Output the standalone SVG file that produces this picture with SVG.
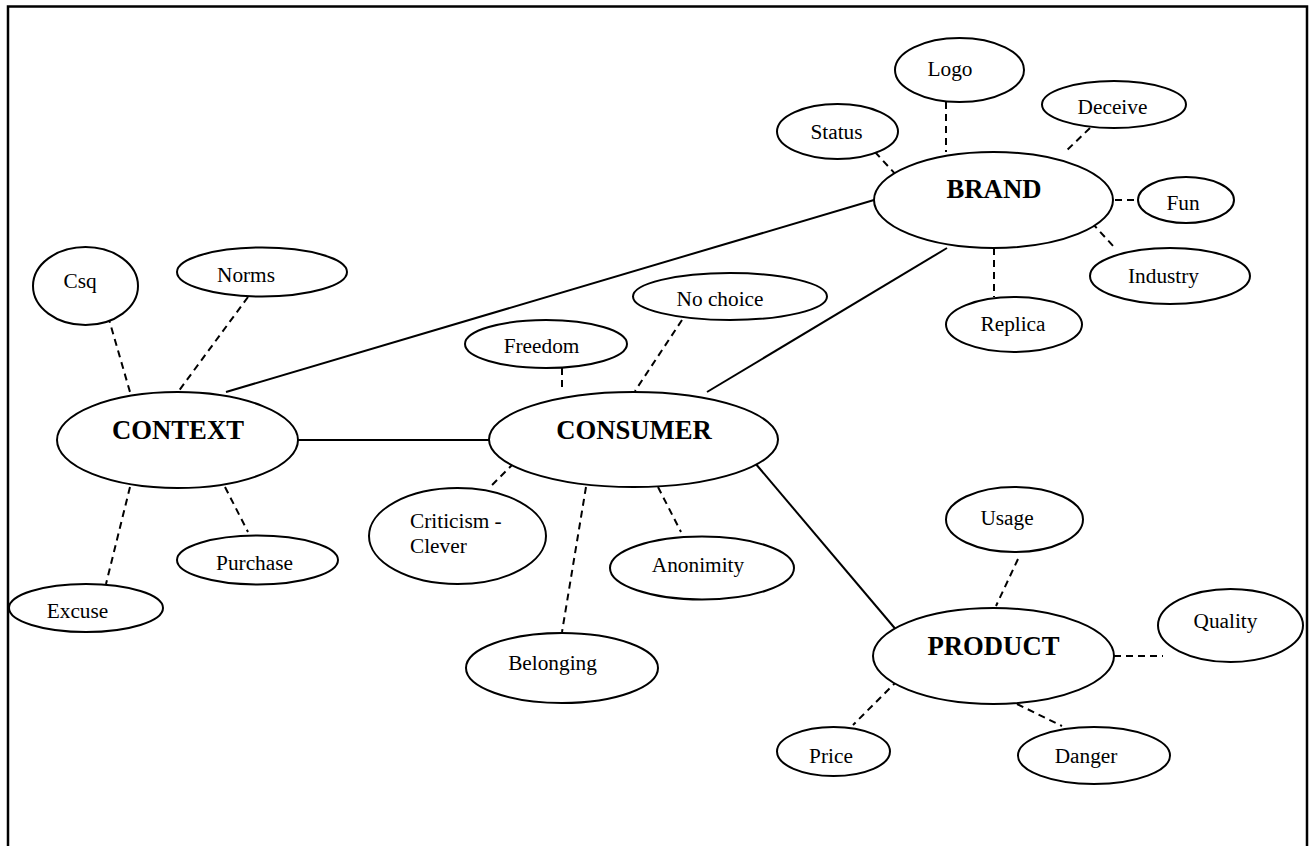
<svg xmlns="http://www.w3.org/2000/svg" width="1312" height="846" viewBox="0 0 1312 846">
  <style>
    .node ellipse { fill: #fff; stroke: #000; stroke-width: 2; }
    .lbl { font-family: "Liberation Serif", "Times New Roman", serif; font-size: 21.3px; fill: #000; text-anchor: middle; }
    .hub { font-family: "Liberation Serif", "Times New Roman", serif; font-size: 26.7px; font-weight: bold; fill: #000; text-anchor: middle; }
    .solid { stroke: #000; stroke-width: 2; fill: none; }
    .dash { stroke: #000; stroke-width: 2; fill: none; stroke-dasharray: 7 5; }
  </style>
  <rect width="1312" height="846" fill="#fff"/>
  <!-- frame, open at the bottom -->
  <path d="M8,846 V6.5 H1307 V846" fill="none" stroke="#000" stroke-width="2.5"/>

  <g id="connectors">
    <!-- links between the four hubs -->
    <line class="solid" x1="874" y1="200" x2="226" y2="392"/>
    <line class="solid" x1="947" y1="248" x2="707" y2="392"/>
    <line class="solid" x1="298" y1="440" x2="489" y2="440"/>
    <line class="solid" x1="755" y1="463" x2="898" y2="632"/>
    <!-- BRAND spokes -->
    <line class="dash" x1="946" y1="102" x2="946" y2="152"/>
    <line class="dash" x1="875" y1="152" x2="898" y2="177"/>
    <line class="dash" x1="1090" y1="128" x2="1065" y2="152"/>
    <line class="dash" x1="1115" y1="200" x2="1138" y2="200"/>
    <line class="dash" x1="1092" y1="223" x2="1115" y2="248"/>
    <line class="dash" x1="994" y1="248" x2="994" y2="297"/>
    <!-- CONTEXT spokes -->
    <line class="dash" x1="108" y1="316" x2="130" y2="392"/>
    <line class="dash" x1="248" y1="297" x2="178" y2="392"/>
    <line class="dash" x1="130" y1="487" x2="106" y2="584"/>
    <line class="dash" x1="225" y1="487" x2="248" y2="532"/>
    <!-- CONSUMER spokes -->
    <line class="dash" x1="562" y1="368" x2="562" y2="390"/>
    <line class="dash" x1="682" y1="320" x2="635" y2="391"/>
    <line class="dash" x1="514" y1="463" x2="489" y2="488"/>
    <line class="dash" x1="586" y1="487" x2="562" y2="632"/>
    <line class="dash" x1="658" y1="487" x2="681" y2="532"/>
    <!-- PRODUCT spokes -->
    <line class="dash" x1="1018" y1="559" x2="996" y2="606"/>
    <line class="dash" x1="1114" y1="656" x2="1163" y2="656"/>
    <line class="dash" x1="898" y1="680" x2="853" y2="725"/>
    <line class="dash" x1="1017" y1="704" x2="1062" y2="726"/>
  </g>

  <g id="brand" class="node">
    <ellipse cx="993.5" cy="200" rx="119.5" ry="48"/>
    <text class="hub" x="994" y="198">BRAND</text>
  </g>
  <g id="logo" class="node">
    <ellipse cx="959.5" cy="70" rx="64.5" ry="32"/>
    <text class="lbl" x="950" y="76">Logo</text>
  </g>
  <g id="status" class="node">
    <ellipse cx="837.5" cy="131.5" rx="60.5" ry="27.5"/>
    <text class="lbl" x="836.5" y="139">Status</text>
  </g>
  <g id="deceive" class="node">
    <ellipse cx="1114" cy="104.5" rx="72" ry="23.5"/>
    <text class="lbl" x="1112.5" y="114">Deceive</text>
  </g>
  <g id="fun" class="node">
    <ellipse cx="1186" cy="200" rx="48" ry="23"/>
    <text class="lbl" x="1183" y="210">Fun</text>
  </g>
  <g id="industry" class="node">
    <ellipse cx="1170" cy="276" rx="80" ry="28"/>
    <text class="lbl" x="1163.5" y="283">Industry</text>
  </g>
  <g id="replica" class="node">
    <ellipse cx="1014" cy="324.5" rx="68" ry="27.5"/>
    <text class="lbl" x="1013" y="331">Replica</text>
  </g>

  <g id="context" class="node">
    <ellipse cx="177.5" cy="440" rx="120.5" ry="48"/>
    <text class="hub" x="178" y="439">CONTEXT</text>
  </g>
  <g id="csq" class="node">
    <ellipse cx="85.5" cy="286" rx="52.5" ry="39"/>
    <text class="lbl" x="80" y="288">Csq</text>
  </g>
  <g id="norms" class="node">
    <ellipse cx="262" cy="272" rx="85" ry="24.5"/>
    <text class="lbl" x="246" y="282">Norms</text>
  </g>
  <g id="purchase" class="node">
    <ellipse cx="257.5" cy="560" rx="80.5" ry="24.5"/>
    <text class="lbl" x="254.5" y="570">Purchase</text>
  </g>
  <g id="excuse" class="node">
    <ellipse cx="86" cy="608" rx="77" ry="24"/>
    <text class="lbl" x="77.5" y="618">Excuse</text>
  </g>

  <g id="consumer" class="node">
    <ellipse cx="633.5" cy="439.5" rx="144.5" ry="47.5"/>
    <text class="hub" x="634" y="439">CONSUMER</text>
  </g>
  <g id="freedom" class="node">
    <ellipse cx="546" cy="344" rx="81" ry="24"/>
    <text class="lbl" x="541.5" y="353">Freedom</text>
  </g>
  <g id="no-choice" class="node">
    <ellipse cx="730" cy="296.5" rx="97" ry="23.5"/>
    <text class="lbl" x="720" y="306">No choice</text>
  </g>
  <g id="criticism" class="node">
    <ellipse cx="457.5" cy="536" rx="88.5" ry="48"/>
    <text class="lbl" style="text-anchor:start" x="410" y="528">Criticism -</text>
    <text class="lbl" style="text-anchor:start" x="410" y="553">Clever</text>
  </g>
  <g id="anonimity" class="node">
    <ellipse cx="702" cy="568" rx="92" ry="31.5"/>
    <text class="lbl" x="698" y="572">Anonimity</text>
  </g>
  <g id="belonging" class="node">
    <ellipse cx="562" cy="668" rx="96" ry="35"/>
    <text class="lbl" x="552.5" y="670">Belonging</text>
  </g>

  <g id="product" class="node">
    <ellipse cx="993.5" cy="656" rx="120.5" ry="48"/>
    <text class="hub" x="993.5" y="655">PRODUCT</text>
  </g>
  <g id="usage" class="node">
    <ellipse cx="1014.5" cy="519.5" rx="68.5" ry="32.5"/>
    <text class="lbl" x="1007" y="525">Usage</text>
  </g>
  <g id="quality" class="node">
    <ellipse cx="1230.5" cy="625.5" rx="72.5" ry="36.5"/>
    <text class="lbl" x="1225.5" y="628">Quality</text>
  </g>
  <g id="price" class="node">
    <ellipse cx="833.5" cy="751.5" rx="56.5" ry="24.5"/>
    <text class="lbl" x="831" y="763">Price</text>
  </g>
  <g id="danger" class="node">
    <ellipse cx="1094" cy="755.5" rx="76" ry="28.5"/>
    <text class="lbl" x="1086" y="763">Danger</text>
  </g>
</svg>
